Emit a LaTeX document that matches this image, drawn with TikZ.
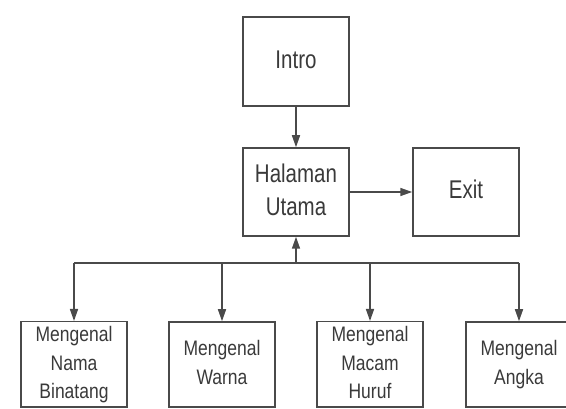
\documentclass[tikz,border=0pt]{standalone}
\usepackage{fontspec}
\setmainfont{Liberation Sans}
\usetikzlibrary{arrows.meta}
\definecolor{linecol}{HTML}{4A4A4A}
\definecolor{textcol}{HTML}{3A3A3A}
\newcommand{\bigtxt}[1]{\scalebox{1}[1.25]{\fontsize{20.5}{26.4}\selectfont\begin{tabular}{@{}c@{}}#1\end{tabular}}}
\newcommand{\smalltxt}[1]{\scalebox{1}[1.2]{\fontsize{17.5}{23.75}\selectfont\begin{tabular}{@{}c@{}}#1\end{tabular}}}
\tikzset{
  box/.style={draw=linecol, line width=1.5pt, inner sep=0pt, text=textcol, minimum width=106pt, minimum height=88pt},
  smallbox/.style={box, minimum height=85pt},
  arr/.style={draw=linecol, line width=1.5pt, -{Triangle[length=12pt,width=8pt]}},
  bus/.style={draw=linecol, line width=1.5pt}
}
\begin{document}
\begin{tikzpicture}[x=1pt,y=-1pt]
\useasboundingbox[fill=white] (0,0) rectangle (566,409);
\clip (0,0) rectangle (566,409);
\node[box, minimum height=89pt] (intro) at (296,61.5) {\bigtxt{Intro}};
\node[box] (hal) at (296,192) {\bigtxt{Halaman\\Utama}};
\node[box] (exit) at (466,192) {\bigtxt{Exit}};
\node[smallbox] (b1) at (74,364.5) {\smalltxt{Mengenal\\Nama\\Binatang}};
\node[smallbox] (b2) at (222,364.5) {\smalltxt{Mengenal\\Warna}};
\node[smallbox] (b3) at (370,364.5) {\smalltxt{Mengenal\\Macam\\Huruf}};
\node[smallbox] (b4) at (519,364.5) {\smalltxt{Mengenal\\Angka}};
\coordinate (busc) at (296,263);
\coordinate (busl) at (74,263);
\coordinate (busr) at (519,263);
\draw[arr] (intro) -- (hal);
\draw[arr] (hal) -- (exit);
\draw[bus] (busl) -- (busr);
\draw[arr] (busc) -- (hal.south);
\draw[arr] (busl) -- (b1.north);
\draw[arr] (b2.north |- busc) -- (b2.north);
\draw[arr] (b3.north |- busc) -- (b3.north);
\draw[arr] (busr) -- (b4.north);
\end{tikzpicture}
\end{document}
